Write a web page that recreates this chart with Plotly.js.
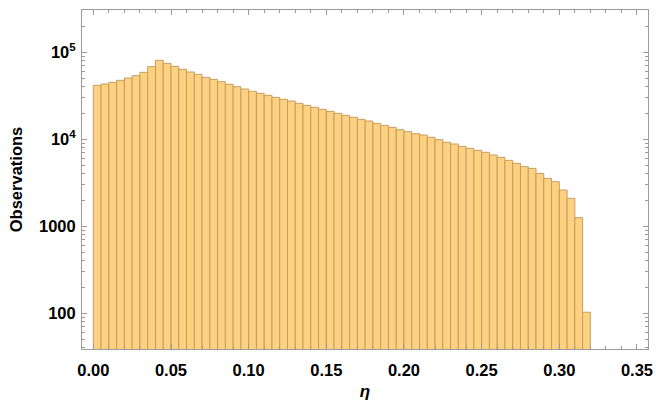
<!DOCTYPE html>
<html>
<head>
<meta charset="utf-8">
<script src="https://cdn.plot.ly/plotly-3.0.1.min.js"></script>
<style>
  html, body { margin: 0; padding: 0; background: #ffffff; }
  #chart { width: 656px; height: 405px; }
</style>
</head>
<body>
<div id="chart"></div>
<script>
// Bin lower edges of eta (bin width 0.005)
const binStarts = [
  0.000, 0.005, 0.010, 0.015, 0.020, 0.025, 0.030, 0.035, 0.040, 0.045,
  0.050, 0.055, 0.060, 0.065, 0.070, 0.075, 0.080, 0.085, 0.090, 0.095,
  0.100, 0.105, 0.110, 0.115, 0.120, 0.125, 0.130, 0.135, 0.140, 0.145,
  0.150, 0.155, 0.160, 0.165, 0.170, 0.175, 0.180, 0.185, 0.190, 0.195,
  0.200, 0.205, 0.210, 0.215, 0.220, 0.225, 0.230, 0.235, 0.240, 0.245,
  0.250, 0.255, 0.260, 0.265, 0.270, 0.275, 0.280, 0.285, 0.290, 0.295,
  0.300, 0.305, 0.310, 0.315
];
const binWidth = 0.005;

const observations = [
  41750, 43250, 45200, 47680, 50700, 53920, 58900, 68430, 80910, 74750,
  69030, 63760, 59420, 55860, 51600, 48940, 46000, 42870, 40300, 37880,
  35620, 33790, 32050, 30400, 28830, 27590, 25930, 24590, 23320, 22120,
  20980, 19900, 18870, 17900, 16980, 16240, 15270, 14480, 13730, 12910,
  12250, 11620, 11220, 10540, 9910, 9240, 8840, 8310, 7880, 7475,
  7090, 6600, 6210, 5735, 5300, 4850, 4640, 4065, 3560, 3260,
  2615, 2098, 1258, 103
];

// Axis tick labels
const xTickVals = [0, 0.05, 0.10, 0.15, 0.20, 0.25, 0.30, 0.35];
const xTickText = ["0.00", "0.05", "0.10", "0.15", "0.20", "0.25", "0.30", "0.35"];
const yTickVals = [100, 1000, 10000, 100000];
const yTickText = ["100", "1000", "10<sup>4</sup>", "10<sup>5</sup>"];

const xTitle = "η";
const yTitle = "Observations";

// minor log ticks (2..9 within each decade)
const yMinor = [];
for (let d = 10; d <= 100000; d *= 10) {
  for (let m = 2; m <= 9; m++) yMinor.push(d * m);
}

const frameColor = "#9a9a9a";
const fontFam = "Liberation Sans, Arial, sans-serif";

const trace = {
  type: "bar",
  x: binStarts,
  y: observations,
  width: binStarts.map(() => binWidth),
  offset: 0,
  marker: {
    color: "rgb(254,209,128)",
    line: { color: "rgb(196,158,98)", width: 1 }
  },
  hoverinfo: "x+y"
};

const layout = {
  width: 656,
  height: 405,
  margin: { l: 82, r: 8, t: 10, b: 56 },
  paper_bgcolor: "#ffffff",
  plot_bgcolor: "#ffffff",
  showlegend: false,
  bargap: 0,
  font: { family: fontFam, color: "#000000", size: 16 },
  xaxis: {
    range: [-0.0073, 0.3571],
    tickmode: "array",
    tickvals: xTickVals,
    ticktext: xTickText,
    ticks: "inside",
    ticklen: 5,
    tickwidth: 1,
    tickcolor: frameColor,
    minor: { dtick: 0.01, tick0: 0, ticks: "inside", ticklen: 3, tickcolor: frameColor, tickwidth: 1 },
    showline: true,
    linecolor: frameColor,
    linewidth: 1,
    mirror: "allticks",
    showgrid: false,
    zeroline: false,
    ticklabelstandoff: 6,
    tickfont: { family: fontFam, size: 16.5, color: "#000", weight: "bold" },
    title: { text: "<b><i>" + xTitle + "</i></b>", font: { family: fontFam, size: 17, color: "#000" }, standoff: 7 }
  },
  yaxis: {
    type: "log",
    range: [1.59, 5.4866],
    tickmode: "array",
    tickvals: yTickVals,
    ticktext: yTickText,
    ticks: "inside",
    ticklen: 5,
    tickwidth: 1,
    tickcolor: frameColor,
    minor: { tickmode: "array", tickvals: yMinor, ticks: "inside", ticklen: 3, tickcolor: frameColor, tickwidth: 1 },
    showline: true,
    linecolor: frameColor,
    linewidth: 1,
    mirror: "allticks",
    showgrid: false,
    zeroline: false,
    ticklabelstandoff: 2,
    tickfont: { family: fontFam, size: 16.5, color: "#000", weight: "bold" },
    title: { text: "<b>" + yTitle + "</b>", font: { family: fontFam, size: 16.5, color: "#000" }, standoff: 12 }
  }
};

Plotly.newPlot("chart", [trace], layout, { displayModeBar: false, staticPlot: true });
</script>
</body>
</html>
